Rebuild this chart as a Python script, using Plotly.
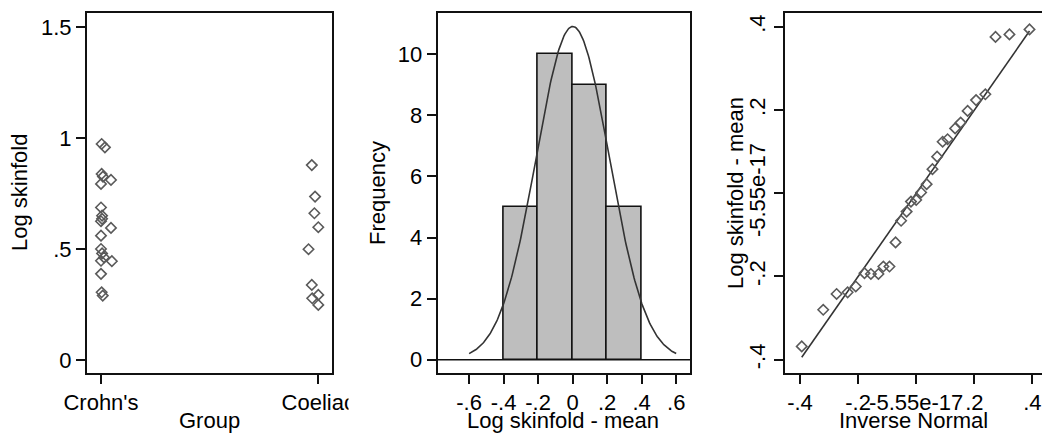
import numpy as np
import plotly.graph_objects as go

# ---------------- data ----------------
group_labels = ["Crohn's", "Coeliac"]
crohns_log_skinfold = [0.973, 0.958, 0.838, 0.826, 0.811, 0.793, 0.687, 0.650, 0.636, 0.625,
                       0.595, 0.560, 0.500, 0.480, 0.462, 0.447, 0.445, 0.388, 0.305, 0.290]
crohns_jitter = [0.003, 0.018, 0.003, 0.009, 0.046, 0.0, 0.0, 0.005, 0.005, 0.0,
                 0.046, 0.0, 0.0, 0.005, 0.014, 0.0, 0.05, 0.0, 0.003, 0.008]
coeliac_log_skinfold = [0.878, 0.736, 0.661, 0.598, 0.499, 0.338, 0.293, 0.278, 0.248]
coeliac_jitter = [-0.03, -0.015, -0.018, 0.0, -0.045, -0.03, 0.0, -0.028, 0.0]

# residuals (log skinfold - mean), sorted, and matching inverse-normal quantiles
resid = [-0.368, -0.280, -0.242, -0.238, -0.224, -0.192, -0.194, -0.194, -0.176, -0.176,
         -0.118, -0.066, -0.044, -0.020, -0.016, 0.002, 0.022, 0.058, 0.088, 0.124,
         0.130, 0.156, 0.170, 0.198, 0.224, 0.238, 0.376, 0.382, 0.394]
inv_normal = [-0.394, -0.320, -0.274, -0.236, -0.208, -0.178, -0.156, -0.130, -0.113, -0.092,
              -0.071, -0.052, -0.033, -0.018, 0.000, 0.017, 0.036, 0.056, 0.072, 0.091,
              0.108, 0.134, 0.153, 0.177, 0.206, 0.238, 0.273, 0.321, 0.390]
hist_edges = [-0.4, -0.2, 0.0, 0.2, 0.4]

p1_yticks = [0, 0.5, 1, 1.5]
p1_yticklabels = ["0", ".5", "1", "1.5"]
p2_xticks = [-0.6, -0.4, -0.2, 0, 0.2, 0.4, 0.6]
p2_xticklabels = ["-.6", "-.4", "-.2", "0", ".2", ".4", ".6"]
p2_yticks = [0, 2, 4, 6, 8, 10]
p3_ticks = [-0.4, -0.2, -5.55e-17, 0.2, 0.4]
p3_ticklabels = ["-.4", "-.2", "-5.55e-17", ".2", ".4"]

# ---------------- layout helpers ----------------
W, H = 1042, 434
FONT = "Liberation Sans, Arial, Helvetica, sans-serif"
FS = 22
DARK = "#111111"
MARK = "#5a5a5a"


def px(x):
    return x / W


def py(y):
    return 1 - y / H


ydom = [py(373), py(13)]

fig = go.Figure()

# Panel 1: dot plot
fig.add_trace(go.Scatter(
    x=[1 + j for j in crohns_jitter], y=crohns_log_skinfold, mode="markers",
    marker=dict(symbol="diamond-open", size=8, color=MARK, line=dict(width=1.6, color=MARK)),
    xaxis="x", yaxis="y", showlegend=False))
fig.add_trace(go.Scatter(
    x=[2 + j for j in coeliac_jitter], y=coeliac_log_skinfold, mode="markers",
    marker=dict(symbol="diamond-open", size=8, color=MARK, line=dict(width=1.6, color=MARK)),
    xaxis="x", yaxis="y", showlegend=False))

# Panel 2: histogram with normal curve
counts, edges = np.histogram(resid, bins=hist_edges)
edges = np.array(edges)
centers = (edges[:-1] + edges[1:]) / 2
widths = np.diff(edges)
fig.add_trace(go.Bar(
    x=centers, y=counts, width=widths,
    marker=dict(color="#bebebe", line=dict(color=DARK, width=1.6)),
    xaxis="x2", yaxis="y2", showlegend=False))
r = np.array(resid)
mu, sd = r.mean(), r.std(ddof=1)
xc = np.linspace(-0.6, 0.6, 241)
yc = len(r) * widths[0] * np.exp(-0.5 * ((xc - mu) / sd) ** 2) / (sd * np.sqrt(2 * np.pi))
fig.add_trace(go.Scatter(x=xc, y=yc, mode="lines", line=dict(color="#333333", width=1.6),
                         xaxis="x2", yaxis="y2", showlegend=False))

# Panel 3: normal quantile plot
lo, hi = min(inv_normal), max(inv_normal)
fig.add_trace(go.Scatter(x=[lo, hi], y=[lo, hi], mode="lines",
                         line=dict(color="#333333", width=1.6),
                         xaxis="x3", yaxis="y3", showlegend=False))
fig.add_trace(go.Scatter(
    x=inv_normal, y=resid, mode="markers",
    marker=dict(symbol="diamond-open", size=8, color=MARK, line=dict(width=1.6, color=MARK)),
    xaxis="x3", yaxis="y3", showlegend=False))

axis_common = dict(showgrid=False, zeroline=False, showline=True, linecolor=DARK, linewidth=2,
                   ticks="outside", ticklen=9, tickwidth=1.5, tickcolor=DARK, automargin=False,
                   tickfont=dict(family=FONT, size=FS, color="#000000"))

fig.update_layout(
    template="none",
    width=W, height=H, margin=dict(l=0, r=0, t=0, b=0, pad=0),
    paper_bgcolor="white", plot_bgcolor="white",
    bargap=0,
    xaxis=dict(domain=[px(87), px(332)], range=[0.9356, 2.063], anchor="y", mirror=True,
               tickvals=[1, 2], ticktext=group_labels, tickangle=0, **axis_common),
    yaxis=dict(domain=ydom, range=[-0.0586, 1.563], anchor="x", mirror=True,
               tickvals=p1_yticks, ticktext=p1_yticklabels, **axis_common),
    xaxis2=dict(domain=[px(437.7), px(690)], range=[-0.782, 0.680], anchor="y2", mirror=True,
                tickvals=p2_xticks, ticktext=p2_xticklabels, tickangle=0, **axis_common),
    yaxis2=dict(domain=ydom, range=[-0.435, 11.35], anchor="x2", mirror=True,
                tickvals=p2_yticks, **axis_common),
    xaxis3=dict(domain=[px(785), 1.0], range=[-0.4516, 0.433], anchor="y3", mirror=True,
                tickvals=p3_ticks, ticktext=p3_ticklabels, tickangle=0, **axis_common),
    yaxis3=dict(domain=ydom, range=[-0.432, 0.4334], anchor="x3", mirror=False,
                tickvals=p3_ticks, ticktext=p3_ticklabels, tickangle=-90, **axis_common),
)

# baseline at zero in histogram
fig.add_shape(type="line", xref="x2 domain", yref="y2", x0=0, x1=1, y0=0, y1=0,
              line=dict(color=DARK, width=1.6))
# clip the Coeliac label at the panel boundary like the original
fig.add_shape(type="rect", xref="paper", yref="paper", x0=px(348.5), x1=px(372),
              y0=py(416), y1=py(386), fillcolor="white", line=dict(width=0), layer="above")

titles = [
    ("Log skinfold", 19, 193, -90),
    ("Group", 209.5, 420, 0),
    ("Frequency", 377, 193, -90),
    ("Log skinfold - mean", 563, 420, 0),
    ("Log skinfold - mean", 735, 193, -90),
    ("Inverse Normal", 913, 420, 0),
]
for text, x, y, ang in titles:
    fig.add_annotation(text=text, x=px(x), y=py(y), xref="paper", yref="paper",
                       showarrow=False, textangle=ang, xanchor="center", yanchor="middle",
                       font=dict(family=FONT, size=FS, color="#000000"))

fig.write_html("out.html")
